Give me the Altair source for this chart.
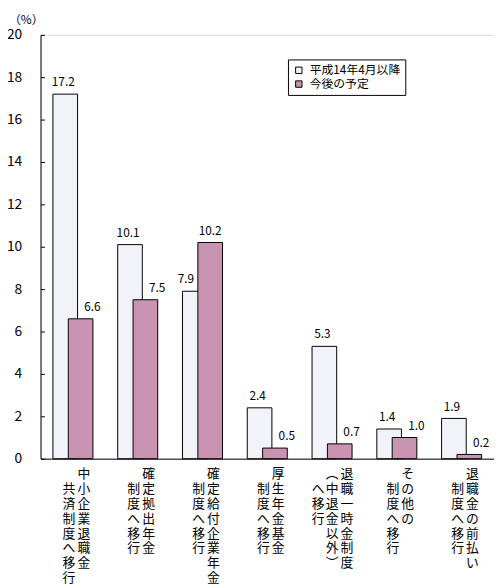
import pandas as pd
import altair as alt

JP = 'Noto Sans CJK JP'

# categories; each x label is drawn as vertical columns (rightmost column first,
# a leading '　' marks a column that starts one row lower)
categories = [
    '中小企業退職金共済制度へ移行',
    '確定拠出年金制度へ移行',
    '確定給付企業年金制度へ移行',
    '厚生年金基金制度へ移行',
    '退職一時金制度（中退金以外）へ移行',
    'その他の制度へ移行',
    '退職金の前払い制度へ移行',
]
label_columns = [
    ['中小企業退職金', '　共済制度へ移行'],
    ['確定拠出年金', '　制度へ移行'],
    ['確定給付企業年金', '　制度へ移行'],
    ['厚生年金基金', '　制度へ移行'],
    ['退職一時金制度', '︵中退金以外︶', '　へ移行'],
    ['その他の', '　制度へ移行'],
    ['退職金の前払い', '　制度へ移行'],
]

series_names = ['平成14年4月以降', '今後の予定']
after_apr2002 = [17.2, 10.1, 7.9, 2.4, 5.3, 1.4, 1.9]
planned = [6.6, 7.5, 10.2, 0.5, 0.7, 1.0, 0.2]

y_ticks = [0, 2, 4, 6, 8, 10, 12, 14, 16, 18, 20]

records = []
for i, cat in enumerate(categories):
    pairs = [(series_names[0], after_apr2002[i], planned[i]),
             (series_names[1], planned[i], after_apr2002[i])]
    for s, v, o in pairs:
        records.append({'category': cat, 'series': s, 'value': v, 'other': o,
                        'text': f'{v:.1f}'})
df = pd.DataFrame(records)

col_records = []
for cat, cols in zip(categories, label_columns):
    for k, col in enumerate(cols):
        col_records.append({'category': cat, 'ncols': len(cols), 'k': k,
                            'text': '|'.join('' if ch == '　' else ch for ch in col)})
cols_df = pd.DataFrame(col_records)

W, H = 460, 430

x_enc = alt.X('category:N', sort=categories,
              scale=alt.Scale(paddingInner=0.525, paddingOuter=0.2625),
              axis=alt.Axis(title=None, ticks=False, labels=False,
                            domainColor='black', domainWidth=1))
xo_enc = alt.XOffset('series:N', sort=series_names,
                     scale=alt.Scale(paddingInner=0, paddingOuter=0))
y_scale = alt.Scale(domain=[0, 20], nice=False)

# y axis drawn on the right orient and moved to the left edge so ticks point inward
y_axis = alt.Axis(orient='right', offset=-W, values=y_ticks, grid=False,
                  ticks=True, tickSize=4, tickColor='black',
                  domainColor='black', domainWidth=1,
                  labelAlign='right', labelPadding=-23, labelFont=JP,
                  labelFontSize=14, labelColor='black',
                  title='（%）', titleAngle=0, titleX=-15, titleY=-11,
                  titleAlign='center', titleBaseline='alphabetic',
                  titleFont=JP, titleFontSize=12,
                  titleFontWeight='normal', titleColor='black')

base = alt.Chart(df)

bars = base.mark_bar(width=25, stroke='black', strokeWidth=1).encode(
    x=x_enc,
    xOffset=xo_enc,
    y=alt.Y('value:Q', scale=y_scale, axis=y_axis),
    color=alt.Color('series:N', sort=series_names,
                    scale=alt.Scale(domain=series_names, range=['#f2f2f9', '#c994b1']),
                    legend=alt.Legend(title=None, orient='none', legendX=251, legendY=25,
                                      symbolType='square', symbolSize=42,
                                      symbolStrokeColor='black', symbolStrokeWidth=1,
                                      labelFont=JP, labelFontSize=12, labelColor='black',
                                      labelOffset=5, rowPadding=2, padding=5,
                                      fillColor='white', strokeColor='black'))
)


def value_labels(flt, dx):
    return base.transform_filter(flt).mark_text(
        font=JP, fontSize=12, color='black', baseline='alphabetic', dy=-8, dx=dx
    ).encode(
        x=x_enc,
        xOffset=xo_enc,
        y=alt.Y('value:Q', scale=y_scale),
        text='text:N',
    )


s1 = f"datum.series == '{series_names[0]}'"
s2 = f"datum.series == '{series_names[1]}'"
layers = [
    bars,
    value_labels(f"{s1} && datum.value >= datum.other", -2),
    value_labels(f"{s1} && datum.value < datum.other", -9),
    value_labels(f"{s2} && datum.value < datum.other", 12),
    value_labels(f"{s2} && datum.value >= datum.other", 0),
]

# vertical category labels, one text mark per column
col_dx = {(2, 0): 11, (2, 1): -4, (3, 0): 15, (3, 1): 0, (3, 2): -14}
for (n, k), dx in col_dx.items():
    layers.append(
        alt.Chart(cols_df).transform_filter(
            f"datum.ncols == {n} && datum.k == {k}"
        ).mark_text(
            font=JP, fontSize=13, color='black', baseline='top', align='center',
            lineBreak='|', lineHeight=15, dx=dx, dy=10
        ).encode(
            x=x_enc,
            y=alt.YDatum(0, scale=y_scale),
            text='text:N',
        )
    )

chart = alt.layer(*layers).properties(
    width=W,
    height=H,
    autosize=alt.AutoSizeParams(type='none'),
    padding={'left': 33, 'top': 23, 'right': 0, 'bottom': 127},
).configure_view(stroke=None).configure(background='white')

chart.save("out.html", embed_options={"renderer": "svg", "actions": False})
